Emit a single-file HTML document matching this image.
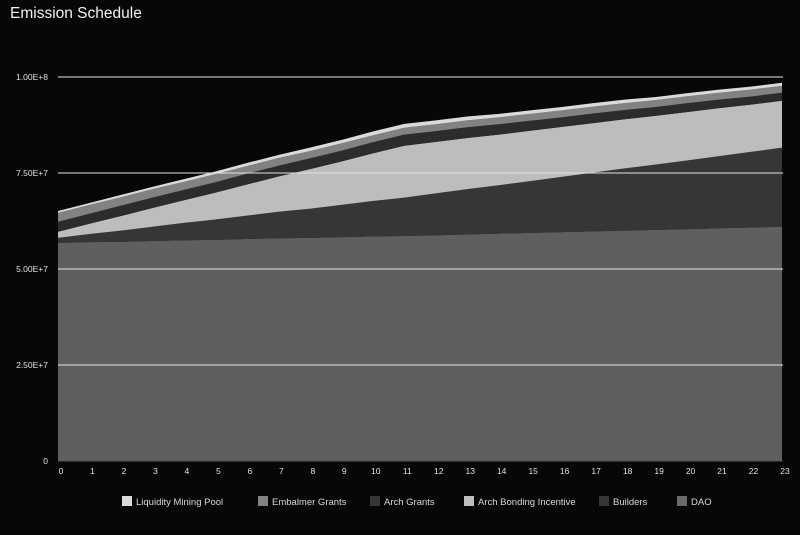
<!DOCTYPE html>
<html><head><meta charset="utf-8"><style>
html,body{margin:0;padding:0;background:#070707;width:800px;height:535px;overflow:hidden}
body{font-family:"Liberation Sans",sans-serif;color:#fff}
#title{position:absolute;left:10px;top:5px;font-size:15.5px;color:#f2f2f2}
svg{position:absolute;left:0;top:0}
</style></head><body>
<div id="title">Emission Schedule</div>
<svg id="chart" width="800" height="535"></svg>
<script>
const categories=[0,1,2,3,4,5,6,7,8,9,10,11,12,13,14,15,16,17,18,19,20,21,22,23];
const seriesNames=["DAO","Builders","Arch Bonding Incentive","Arch Grants","Embalmer Grants","Liquidity Mining Pool"];
const daoValues=[56.8,57.0,57.1,57.3,57.5,57.6,57.8,58.0,58.1,58.3,58.5,58.6,58.8,59.0,59.2,59.4,59.6,59.8,60.0,60.2,60.4,60.6,60.8,61.0];
const buildersValues=[1.3,2.1,2.9,3.7,4.5,5.3,6.1,6.9,7.6,8.4,9.2,10.0,10.9,11.8,12.6,13.5,14.4,15.3,16.2,17.0,17.9,18.8,19.7,20.6];
const bondingValues=[1.6,2.7,3.8,4.9,5.9,7.0,8.1,9.2,10.3,11.3,12.4,13.5,13.4,13.3,13.2,13.1,13.0,12.9,12.8,12.7,12.6,12.5,12.3,12.2];
const archGrantsValues=[2.6,2.6,2.7,2.7,2.7,2.7,2.8,2.8,2.8,2.8,2.9,2.9,2.8,2.8,2.7,2.6,2.5,2.5,2.4,2.3,2.3,2.2,2.1,2.1];
const embalmerValues=[2.3,2.3,2.2,2.2,2.1,2.1,2.0,2.0,1.9,1.9,1.8,1.8,1.8,1.8,1.8,1.8,1.8,1.8,1.8,1.8,1.8,1.8,1.8,1.8];
const lmpValues=[0.5,0.5,0.6,0.6,0.7,0.7,0.8,0.8,0.9,0.9,1.0,1.0,1.0,1.0,0.9,0.9,0.9,0.9,0.9,0.8,0.8,0.8,0.8,0.8];
const yTicks=[0,25,50,75,100];
const yTickLabels=["0","2.50E+7","5.00E+7","7.50E+7","1.00E+8"];

const NS="http://www.w3.org/2000/svg";
const svg=document.getElementById('chart');
const X0=58,X1=782,Y0=461,Y1=77,YMAX=100;
const xs=i=>X0+(X1-X0)*i/(categories.length-1);
const ys=v=>Y0-(Y0-Y1)*v/YMAX;
const series=[daoValues,buildersValues,bondingValues,archGrantsValues,embalmerValues,lmpValues];
const colors=["#5f5f5f","#363636","#bdbdbd","#2c2c2c","#828282","#dadada"];
const slugs=["area-dao","area-builders","area-arch-bonding-incentive","area-arch-grants","area-embalmer-grants","area-liquidity-mining-pool"];
let base=categories.map(()=>0);
series.forEach((vals,s)=>{
  const top=base.map((b,i)=>b+vals[i]);
  let d="M"+categories.map((c,i)=>xs(i)+","+ys(top[i])).join("L");
  for(let i=categories.length-1;i>=0;i--) d+="L"+xs(i)+","+ys(base[i]);
  d+="Z";
  const p=document.createElementNS(NS,'path');
  p.setAttribute('d',d);p.setAttribute('fill',colors[s]);
  
  
  svg.appendChild(p);
  base=top;
});
yTicks.forEach((t,k)=>{
  const l=document.createElementNS(NS,'line');
  l.setAttribute('x1',X0);l.setAttribute('x2',X1+1);l.setAttribute('y1',ys(t));l.setAttribute('y2',ys(t));
  l.setAttribute('stroke',k===0?'#555':'#e4e4e4');l.setAttribute('stroke-width','1');
  
  
  svg.appendChild(l);
  const tx=document.createElementNS(NS,'text');
  tx.setAttribute('x',48);tx.setAttribute('y',ys(t)+3);tx.setAttribute('text-anchor','end');
  tx.setAttribute('fill','#e0e0e0');tx.setAttribute('font-size','8.5');
  tx.textContent=yTickLabels[k];
  
  
  svg.appendChild(tx);
});
categories.forEach((c,i)=>{
  const tx=document.createElementNS(NS,'text');
  tx.setAttribute('x',xs(i)+3);tx.setAttribute('y',474);tx.setAttribute('text-anchor','middle');
  tx.setAttribute('fill','#e0e0e0');tx.setAttribute('font-size','8.5');
  tx.textContent=c;
  
  
  svg.appendChild(tx);
});
const legendNames=["Liquidity Mining Pool","Embalmer Grants","Arch Grants","Arch Bonding Incentive","Builders","DAO"];
const legendColors=["#dadada","#828282","#363636","#bdbdbd","#363636","#6a6a6a"];
const legendX=[122,258,370,464,599,677];
legendNames.forEach((n,k)=>{
  const g=document.createElementNS(NS,'g');
  
  
  const r=document.createElementNS(NS,'rect');
  r.setAttribute('x',legendX[k]);r.setAttribute('y',496);r.setAttribute('width',10);r.setAttribute('height',10);
  r.setAttribute('fill',legendColors[k]);
  g.appendChild(r);
  const tx=document.createElementNS(NS,'text');
  tx.setAttribute('x',legendX[k]+14);tx.setAttribute('y',505);
  tx.setAttribute('fill','#d8d8d8');tx.setAttribute('font-size','9.5');
  tx.textContent=n;
  g.appendChild(tx);
  svg.appendChild(g);
});
</script>
</body></html>
